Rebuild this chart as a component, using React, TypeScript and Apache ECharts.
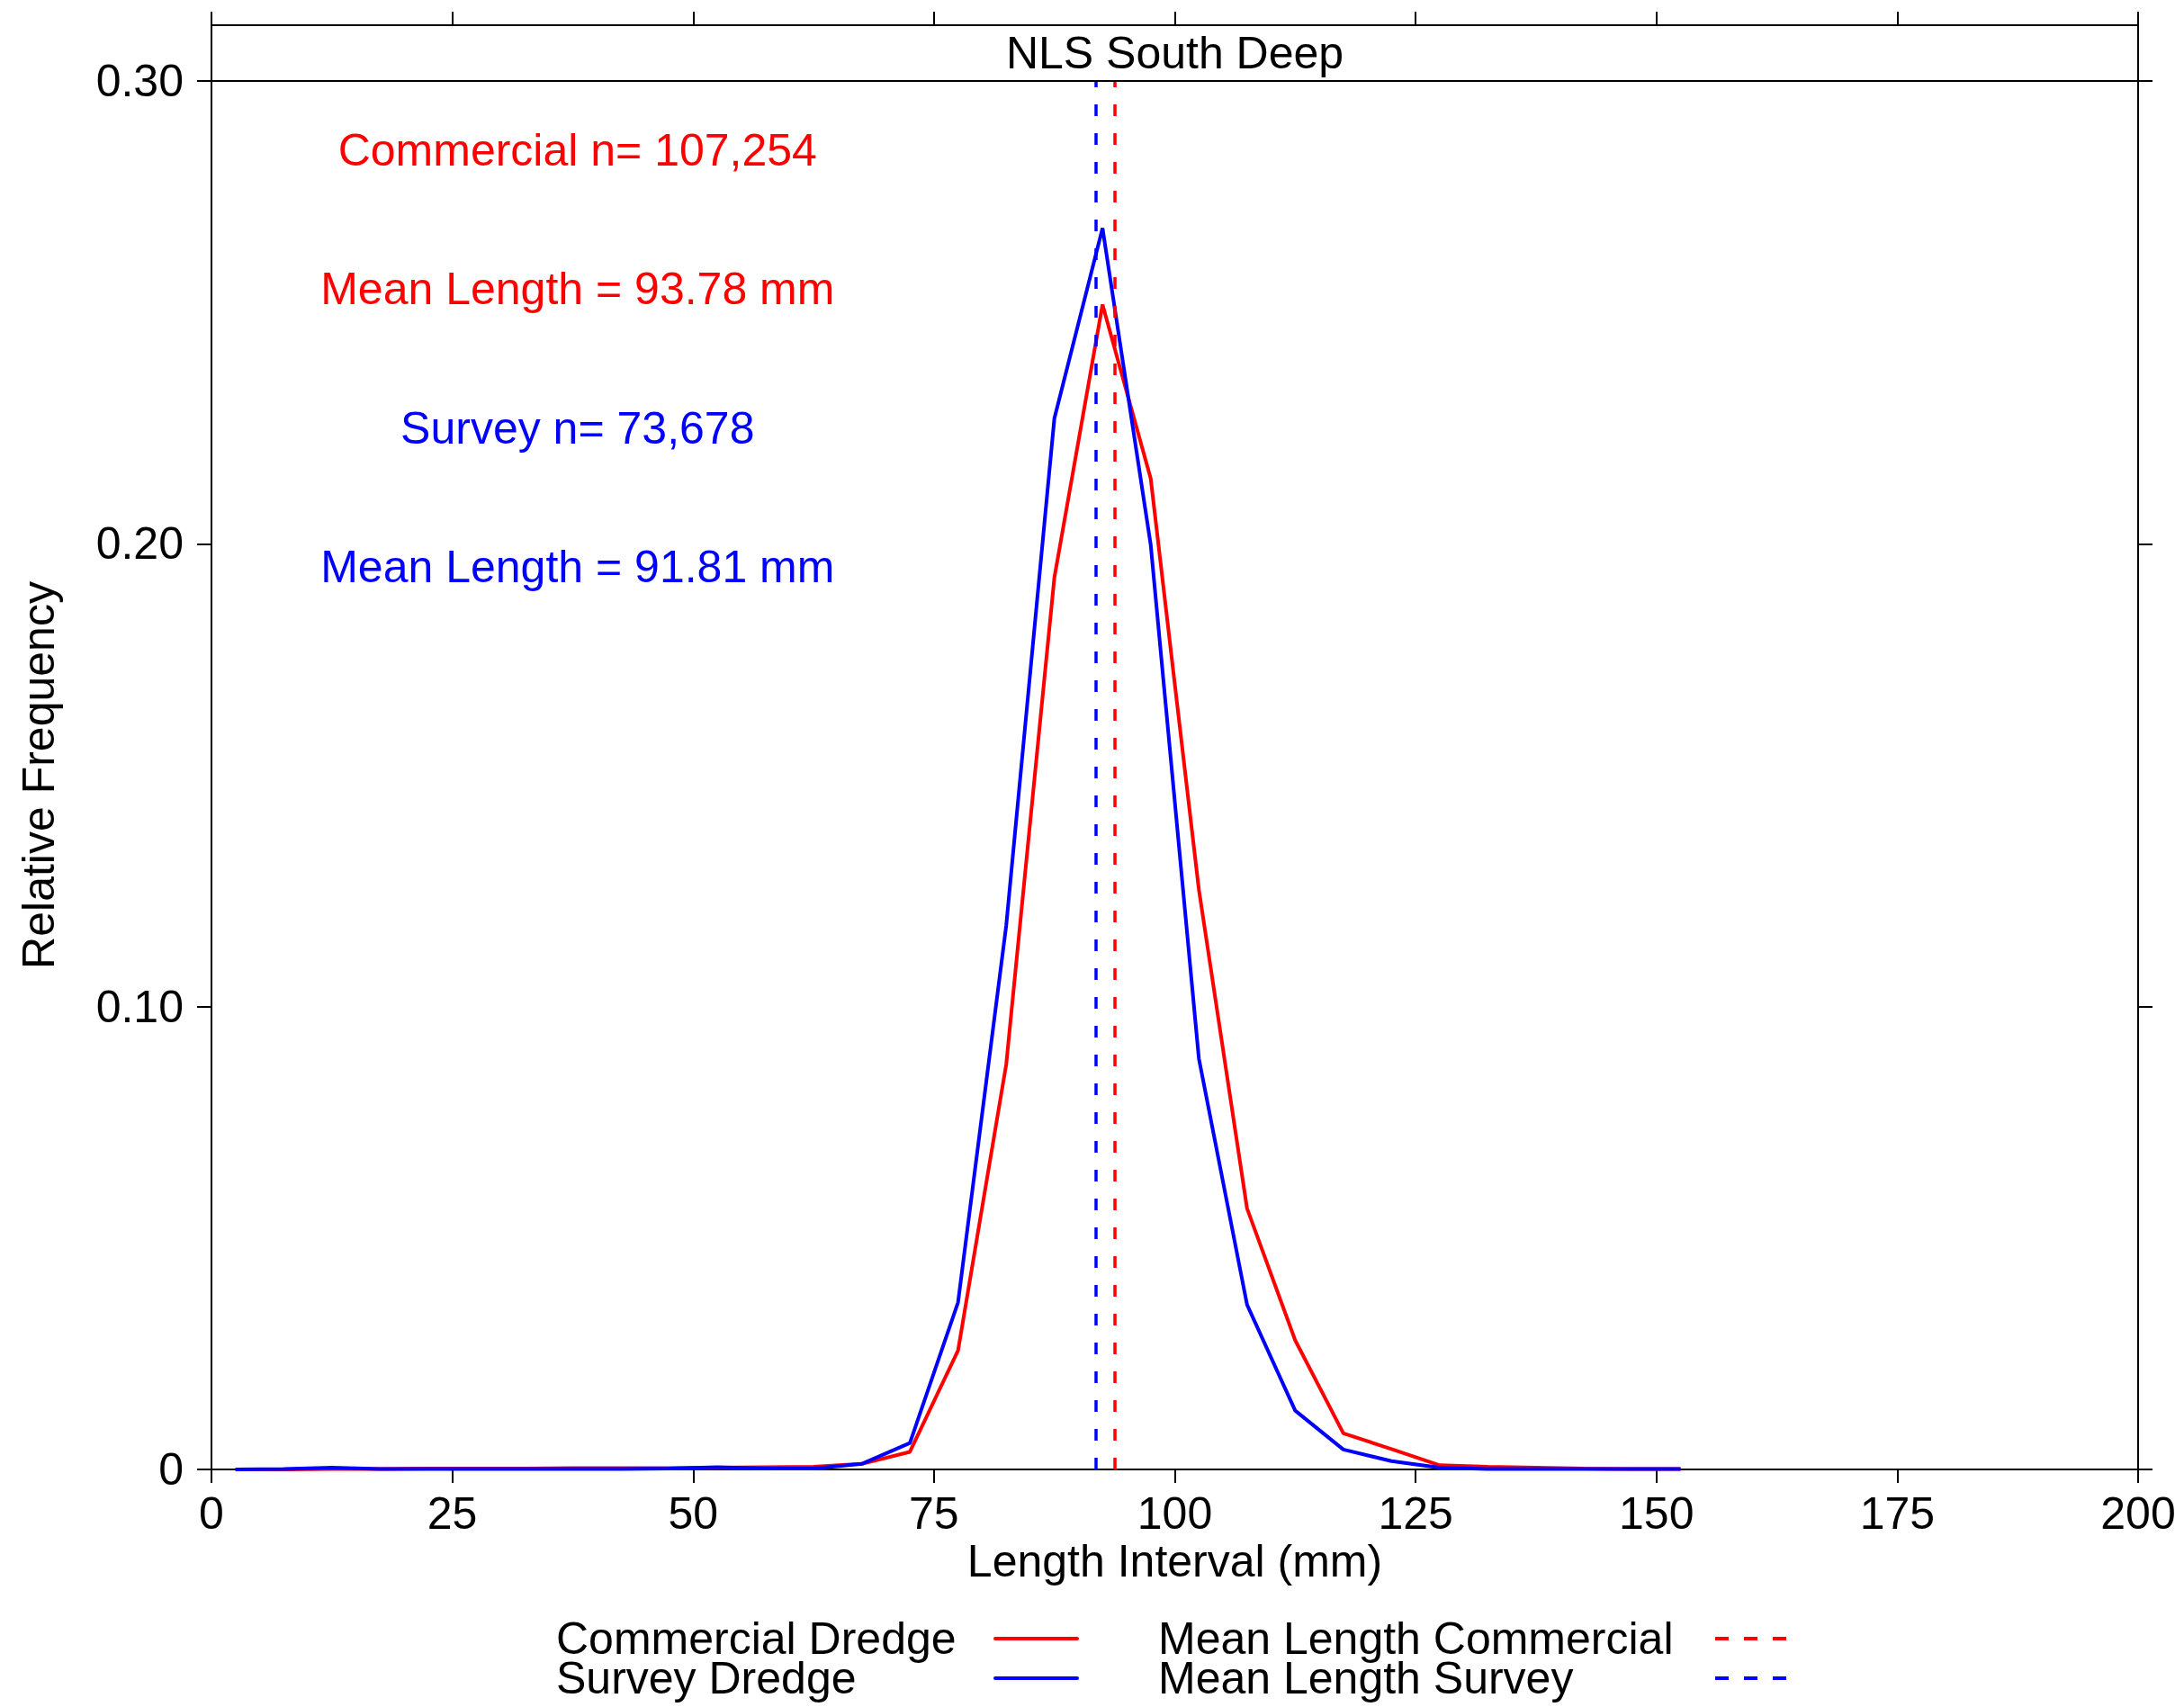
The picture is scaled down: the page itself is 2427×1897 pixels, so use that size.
import React, { useEffect, useRef } from "react";
import * as echarts from "echarts";

// Length-interval midpoints (mm) and relative frequency for each gear type
const lengthMidpoints = [
  2.5, 7.5, 12.5, 17.5, 22.5, 27.5, 32.5, 37.5, 42.5, 47.5, 52.5, 57.5, 62.5, 67.5, 72.5, 77.5,
  82.5, 87.5, 92.5, 97.5, 102.5, 107.5, 112.5, 117.5, 122.5, 127.5, 132.5, 137.5, 142.5, 147.5, 152.5,
];
const commercialFreq = [
  0, 0, 0.0001, 0.0001, 0.0002, 0.0002, 0.0002, 0.0003, 0.0003, 0.0003, 0.0004, 0.0005, 0.0006, 0.0012,
  0.0038, 0.0257, 0.0875, 0.1927, 0.2517, 0.2141, 0.1253, 0.0564, 0.0279, 0.0078, 0.0044, 0.0009,
  0.0006, 0.0004, 0.0002, 0.0001, 0.0001,
];
const surveyFreq = [
  0, 0.0001, 0.0004, 0.0001, 0.0001, 0.0001, 0.0001, 0.0001, 0.0001, 0.0002, 0.0005, 0.0002, 0.0002,
  0.0012, 0.0057, 0.0361, 0.1175, 0.2271, 0.2682, 0.1998, 0.0888, 0.0356, 0.0127, 0.0043, 0.0018,
  0.0004, 0.0001, 0.0001, 0.0001, 0.0001, 0.0001,
];
const meanLengthCommercial = 93.78;
const meanLengthSurvey = 91.81;
const commercialCount = "107,254";
const surveyCount = "73,678";
const areaName = "NLS South Deep";
const xRange = [0, 200];
const xTickStep = 25;
const yRange = [0, 0.3];
const yTickStep = 0.1;

const RED = "#ff0000";
const BLUE = "#0000ff";
const BLACK = "#000000";
const FONT = "'Liberation Sans', Arial, Helvetica, sans-serif";
const FS = 50;

export default function App() {
  const ref = useRef<HTMLDivElement>(null);

  useEffect(() => {
    if (!ref.current) return;
    const chart = echarts.init(ref.current, null, { renderer: "svg" });

    const W = 2427;
    const H = 1897;
    const gLeft = 235;
    const gRight = 2376;
    const gTop = 90;
    const gBottom = 1633;
    const stripTop = 28;
    const midX = (gLeft + gRight) / 2;

    const commercialData = lengthMidpoints.map((x, i) => [x, commercialFreq[i]]);
    const surveyData = lengthMidpoints.map((x, i) => [x, surveyFreq[i]]);

    const axisLineStyle = { color: BLACK, width: 2 };
    const baseX = {
      type: "value" as const,
      min: xRange[0],
      max: xRange[1],
      interval: xTickStep,
      splitLine: { show: false },
    };
    const baseY = {
      type: "value" as const,
      min: yRange[0],
      max: yRange[1],
      interval: yTickStep,
      splitLine: { show: false },
    };

    // text annotations placed in data coordinates
    const notes = [
      { pos: [38, 0.285], text: `Commercial n= ${commercialCount}`, color: RED },
      { pos: [38, 0.255], text: `Mean Length = ${meanLengthCommercial.toFixed(2)} mm`, color: RED },
      { pos: [38, 0.225], text: `Survey n= ${surveyCount}`, color: BLUE },
      { pos: [38, 0.195], text: `Mean Length = ${meanLengthSurvey.toFixed(2)} mm`, color: BLUE },
    ];

    const legendRow1 = 1821;
    const legendRow2 = 1865;
    const textStyle = (extra: any) => ({
      fontFamily: FONT,
      fontSize: FS,
      fill: BLACK,
      ...extra,
    });

    chart.setOption({
      animation: false,
      backgroundColor: "#ffffff",
      grid: {
        left: gLeft,
        top: gTop,
        right: W - gRight,
        bottom: H - gBottom,
        containLabel: false,
      },
      xAxis: [
        {
          ...baseX,
          position: "bottom",
          axisLine: { show: true, onZero: false, lineStyle: axisLineStyle },
          axisTick: { show: true, inside: false, length: 15, lineStyle: axisLineStyle },
          axisLabel: {
            show: true,
            margin: 24,
            color: BLACK,
            fontFamily: FONT,
            fontSize: FS,
          },
        },
        {
          ...baseX,
          position: "top",
          offset: gTop - stripTop,
          axisLine: { show: true, onZero: false, lineStyle: axisLineStyle },
          axisTick: { show: true, inside: false, length: 15, lineStyle: axisLineStyle },
          axisLabel: { show: false },
        },
      ],
      yAxis: [
        {
          ...baseY,
          position: "left",
          axisLine: { show: true, onZero: false, lineStyle: axisLineStyle },
          axisTick: { show: true, inside: false, length: 16, lineStyle: axisLineStyle },
          axisLabel: {
            show: true,
            margin: 31,
            color: BLACK,
            fontFamily: FONT,
            fontSize: FS,
            formatter: (v: number) => (v === 0 ? "0" : v.toFixed(2)),
          },
        },
        {
          ...baseY,
          position: "right",
          axisLine: { show: true, onZero: false, lineStyle: axisLineStyle },
          axisTick: { show: true, inside: false, length: 16, lineStyle: axisLineStyle },
          axisLabel: { show: false },
        },
      ],
      series: [
        {
          name: "Commercial Dredge",
          type: "line",
          data: commercialData,
          symbol: "none",
          silent: true,
          z: 2,
          lineStyle: { color: RED, width: 4 },
          itemStyle: { color: RED },
          markLine: {
            silent: true,
            symbol: ["none", "none"],
            label: { show: false },
            lineStyle: { color: RED, width: 3.5, type: [13, 19], opacity: 1 },
            emphasis: { disabled: true },
            data: [{ xAxis: meanLengthCommercial }],
          },
        },
        {
          name: "Survey Dredge",
          type: "line",
          data: surveyData,
          symbol: "none",
          silent: true,
          z: 3,
          lineStyle: { color: BLUE, width: 4 },
          itemStyle: { color: BLUE },
          markLine: {
            silent: true,
            symbol: ["none", "none"],
            label: { show: false },
            lineStyle: { color: BLUE, width: 3.5, type: [13, 19], opacity: 1 },
            emphasis: { disabled: true },
            data: [{ xAxis: meanLengthSurvey }],
          },
        },
        {
          name: "notes",
          type: "scatter",
          silent: true,
          symbolSize: 1,
          itemStyle: { color: "transparent", opacity: 1 },
          z: 6,
          label: {
            show: true,
            position: "inside",
            fontFamily: FONT,
            fontSize: FS,
            opacity: 1,
            textBorderWidth: 0,
            formatter: (p: any) => p.name,
          },
          data: notes.map((n) => ({
            name: n.text,
            value: n.pos,
            label: { color: n.color },
          })),
        },
      ],
      graphic: [
        {
          type: "rect",
          silent: true,
          z: 10,
          shape: { x: gLeft, y: stripTop, width: gRight - gLeft, height: gTop - stripTop },
          style: { fill: "none", stroke: BLACK, lineWidth: 2 },
        },
        {
          type: "text",
          silent: true,
          x: midX,
          y: (stripTop + gTop) / 2,
          style: textStyle({ text: areaName, align: "center", verticalAlign: "middle" }),
        },
        {
          type: "text",
          silent: true,
          x: midX,
          y: 1735,
          style: textStyle({ text: "Length Interval (mm)", align: "center", verticalAlign: "middle" }),
        },
        {
          type: "text",
          silent: true,
          x: 43,
          y: (gTop + gBottom) / 2,
          rotation: Math.PI / 2,
          style: textStyle({ text: "Relative Frequency", align: "center", verticalAlign: "middle" }),
        },
        // legend: text followed by its line sample
        {
          type: "text",
          silent: true,
          x: 618,
          y: legendRow1,
          style: textStyle({ text: "Commercial Dredge", align: "left", verticalAlign: "middle" }),
        },
        {
          type: "line",
          silent: true,
          shape: { x1: 1106, y1: legendRow1, x2: 1197, y2: legendRow1 },
          style: { stroke: RED, lineWidth: 4, lineCap: "round" },
        },
        {
          type: "text",
          silent: true,
          x: 618,
          y: legendRow2,
          style: textStyle({ text: "Survey Dredge", align: "left", verticalAlign: "middle" }),
        },
        {
          type: "line",
          silent: true,
          shape: { x1: 1106, y1: legendRow2, x2: 1197, y2: legendRow2 },
          style: { stroke: BLUE, lineWidth: 4, lineCap: "round" },
        },
        {
          type: "text",
          silent: true,
          x: 1287,
          y: legendRow1,
          style: textStyle({ text: "Mean Length Commercial", align: "left", verticalAlign: "middle" }),
        },
        {
          type: "line",
          silent: true,
          shape: { x1: 1906, y1: legendRow1, x2: 1985, y2: legendRow1 },
          style: { stroke: RED, lineWidth: 4, lineDash: [15, 17] },
        },
        {
          type: "text",
          silent: true,
          x: 1287,
          y: legendRow2,
          style: textStyle({ text: "Mean Length Survey", align: "left", verticalAlign: "middle" }),
        },
        {
          type: "line",
          silent: true,
          shape: { x1: 1906, y1: legendRow2, x2: 1985, y2: legendRow2 },
          style: { stroke: BLUE, lineWidth: 4, lineDash: [15, 17] },
        },
      ],
    });

    return () => chart.dispose();
  }, []);

  return (
    <div
      ref={ref}
      style={{
        position: "absolute",
        left: 0,
        top: 0,
        width: 2427,
        height: 1897,
        background: "#ffffff",
      }}
    />
  );
}
